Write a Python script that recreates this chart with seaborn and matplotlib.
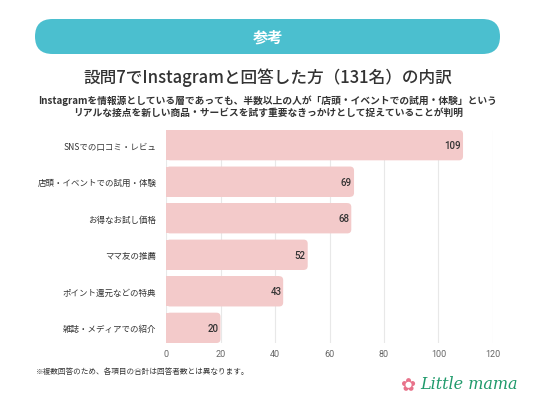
import matplotlib
matplotlib.use("Agg")
import matplotlib.pyplot as plt
from matplotlib.patches import FancyBboxPatch, Rectangle
import seaborn as sns
import pandas as pd

categories = ["SNSでの口コミ・レビュ", "店頭・イベントでの試用・体験", "お得なお試し価格",
              "ママ友の推薦", "ポイント還元などの特典", "雑誌・メディアでの紹介"]
values = [109, 69, 68, 52, 43, 20]
xticks = [0, 20, 40, 60, 80, 100, 120]

banner_text = "参考"
title = "設問7でInstagramと回答した方（131名）の内訳"
subtitle = ("Instagramを情報源としている層であっても、半数以上の人が「店頭・イベントでの試用・体験」という\n"
            "リアルな接点を新しい商品・サービスを試す重要なきっかけとして捉えていることが判明")
footnote = "※複数回答のため、各項目の合計は回答者数とは異なります。"

BAR = "#f3caca"
TEAL = "#4bbfcf"

sns.set_theme(style="white")
plt.rcParams['font.family'] = ['Noto Sans CJK JP', 'DejaVu Sans']

W, H = 536, 402
fig = plt.figure(figsize=(W / 100, H / 100), dpi=100)
fig.patch.set_facecolor("white")

ax = fig.add_axes([166 / W, 1 - 344 / H, (493 - 166) / W, (344 - 131) / H])
df = pd.DataFrame({"cat": categories, "val": values})
sns.barplot(data=df, x="val", y="cat", color=BAR, width=0.83, ax=ax,
            saturation=1, edgecolor="none", zorder=2)

ax.set_xlim(0, 120)
ax.set_ylim(len(categories) - 1 + 0.415, -0.415)
ax.set_xticks(xticks)
ax.set_xticklabels([str(t) for t in xticks], fontsize=6.5, color="#666666",
                   family=["Roboto", "DejaVu Sans"])
ax.tick_params(axis="x", length=0, pad=4)
ax.tick_params(axis="y", length=0, pad=7, labelsize=6.1, labelcolor="#333333")
ax.set_xlabel("")
ax.set_ylabel("")
ax.grid(axis="x", color="#e8e8e8", linewidth=0.8, zorder=0)
for s in ax.spines.values():
    s.set_visible(False)

# round the right ends of the bars (geometry taken from seaborn's bars)
px_per_x = (493 - 166) / 120
px_per_y = (344 - 131) / (len(categories) - 1 + 0.83)
r_px = 4
rx = r_px / px_per_x
ry = r_px / px_per_y
for p in list(ax.patches):
    x0, y0, w, h = p.get_x(), p.get_y(), p.get_width(), p.get_height()
    p.set_visible(False)
    rb = FancyBboxPatch((x0, y0), w, h,
                        boxstyle=f"round,pad=0,rounding_size={rx}",
                        mutation_aspect=ry / rx, facecolor=BAR, edgecolor="none", zorder=2)
    ax.add_patch(rb)
    ax.add_patch(Rectangle((x0, y0), max(w - rx, 0), h, facecolor=BAR,
                           edgecolor="none", zorder=2))
    ax.text(x0 + w - 0.7, y0 + h / 2, f"{int(round(w))}", ha="right", va="center",
            fontsize=7, color="#333333", fontweight="medium", zorder=3,
            family=["Roboto", "DejaVu Sans"])

# banner
banner = FancyBboxPatch((0.35, (H - 55) / 100), 4.65, 0.35,
                        boxstyle="round,pad=0,rounding_size=0.175",
                        transform=fig.dpi_scale_trans, facecolor=TEAL, edgecolor="none")
fig.add_artist(banner)
fig.text(268 / W, 1 - 37.5 / H, banner_text, ha="center", va="center",
         color="white", fontsize=11, fontweight="bold")

fig.text(268 / W, 1 - 78 / H, title, ha="center", va="center",
         color="#333333", fontsize=12, fontweight="medium")
fig.text(268 / W, 1 - 107 / H, subtitle, ha="center", va="center",
         color="#333333", fontsize=7, fontweight="bold", linespacing=1.25,
         multialignment="center")
fig.text(36 / W, 1 - 372 / H, footnote, ha="left", va="center",
         color="#333333", fontsize=5.5)

# logo
fig.text(408 / W, 1 - 386 / H, "✿", ha="center", va="center",
         color="#e8738b", fontsize=13, family=["DejaVu Sans"])
fig.text(420 / W, 1 - 385 / H, "Little mama", ha="left", va="center",
         color="#1f9a6b", fontsize=11.5, style="italic",
         family=["DejaVu Serif"])

fig.savefig("out.png", dpi=100, facecolor="white")
